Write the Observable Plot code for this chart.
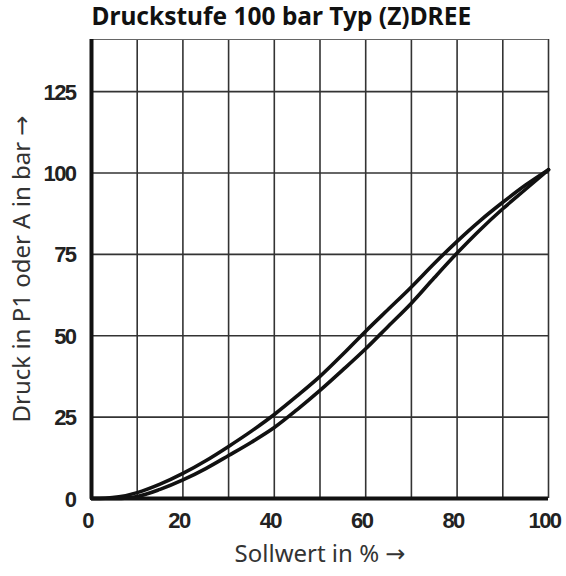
<!DOCTYPE html>
<html>
<head>
<meta charset="utf-8">
<script src="https://cdn.jsdelivr.net/npm/d3@7"></script>
<script src="https://cdn.jsdelivr.net/npm/@observablehq/plot@0.6"></script>
<style>
  body { margin: 0; background: #fff; }
  #chart { position: relative; width: 566px; height: 576px; }
</style>
</head>
<body>
<div id="chart"></div>
<script>
const title = "Druckstufe 100 bar Typ (Z)DREE";
const xLabel = "Sollwert in % \u2192";
const yLabel = "Druck in P1 oder A in bar \u2192";
const xTicks = [0, 20, 40, 60, 80, 100];
const yTicks = [0, 25, 50, 75, 100, 125];
const xGrid = [10, 20, 30, 40, 50, 60, 70, 80, 90, 100];
const yGrid = [25, 50, 75, 100, 125];

const upperX = [0, 3, 6, 10, 15, 20, 25, 30, 35, 40, 45, 50, 55, 60, 65, 70, 75, 80, 85, 90, 95, 100];
const upperY = [0, 0.1, 0.5, 1.8, 4.4, 7.7, 11.6, 16, 20.7, 25.8, 31.5, 37.5, 44.3, 51.4, 58.2, 65, 72.2, 79, 85.3, 91, 96.3, 101];
const lowerX = [0, 5, 8, 10, 15, 20, 25, 30, 35, 40, 45, 50, 55, 60, 65, 70, 75, 80, 85, 90, 95, 100];
const lowerY = [0, 0, 0.2, 0.6, 2.8, 5.7, 9.2, 13.2, 17.3, 21.8, 27.3, 33.2, 39.5, 46, 53, 60, 67.8, 75.4, 82.5, 89, 95, 101];

const upper = upperX.map((x, i) => ({x, y: upperY[i]}));
const lower = lowerX.map((x, i) => ({x, y: lowerY[i]}));

const tickFont = "'Liberation Sans', Arial, sans-serif";
const labelFont = "'Noto Sans', 'Open Sans', sans-serif";

const plot = Plot.plot({
  width: 566,
  height: 576,
  marginLeft: 91,
  marginRight: 18,
  marginTop: 39,
  marginBottom: 78,
  style: { background: "#fff", overflow: "visible" },
  x: { domain: [0, 100], axis: null },
  y: { domain: [0, 141], axis: null },
  marks: [
    Plot.gridX(xGrid, { stroke: "#333", strokeOpacity: 1, strokeWidth: 1.6 }),
    Plot.gridY(yGrid, { stroke: "#333", strokeOpacity: 1, strokeWidth: 1.6 }),
    Plot.ruleY([141], { stroke: "#666", strokeWidth: 1.2 }),
    Plot.line(upper, { x: "x", y: "y", stroke: "#111", strokeWidth: 3.6, curve: "monotone-x" }),
    Plot.line(lower, { x: "x", y: "y", stroke: "#111", strokeWidth: 3.6, curve: "monotone-x" }),
    Plot.ruleX([0], { stroke: "#111", strokeWidth: 4 }),
    Plot.ruleY([0], { stroke: "#111", strokeWidth: 4 }),
    Plot.axisX(xTicks, { tickSize: 0, tickPadding: 14, dx: -4, fontSize: 22, fontWeight: "bold", fontFamily: tickFont, fill: "#222", label: null }),
    Plot.axisY(yTicks, { tickSize: 0, tickPadding: 16, dy: 1, fontSize: 22, fontWeight: "bold", fontFamily: tickFont, fill: "#222", label: null }),
    Plot.text([xLabel], { frameAnchor: "bottom", textAnchor: "middle", dy: 63, fontSize: 24, fontFamily: labelFont, fill: "#333" }),
    Plot.text([yLabel], { frameAnchor: "left", textAnchor: "middle", dx: -69, rotate: -90, fontSize: 24, fontFamily: labelFont, fill: "#333" }),
    Plot.text([title], { frameAnchor: "top-left", textAnchor: "start", dy: -32, dx: 0, fontSize: 24.5, fontWeight: "bold", fontFamily: labelFont, fill: "#111" })
  ]
});

// condensed look for the tick numbers
d3.select(plot).selectAll('g[aria-label$="tick label"] text').style("letter-spacing", "-1.6px");

// render the arrow glyph in a font that has a full-size arrow
d3.select(plot).selectAll("text").each(function () {
  const t = this.textContent;
  if (this.childElementCount === 0 && t.includes("\u2192")) {
    const base = t.replace(" \u2192", " ");
    this.textContent = "";
    d3.select(this).append("tspan").text(base);
    d3.select(this).append("tspan").attr("font-family", "'DejaVu Sans', sans-serif").text("\u2192");
  }
});

document.getElementById("chart").appendChild(plot);
</script>
</body>
</html>
